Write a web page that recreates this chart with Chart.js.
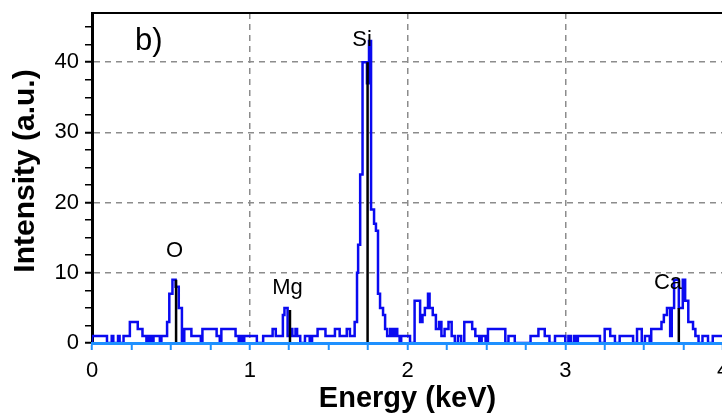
<!DOCTYPE html>
<html>
<head>
<meta charset="utf-8">
<script src="https://cdn.jsdelivr.net/npm/chart.js@4"></script>
<style>
  html, body { margin: 0; padding: 0; background: #fff; overflow: hidden; }
  #wrap { width: 722px; height: 414px; overflow: hidden; }
</style>
</head>
<body>
<div id="wrap"><canvas id="edsChart" width="760" height="414"></canvas></div>
<script>
// EDS spectrum: start energy of each step (keV) and its intensity
const energy = [
  0.00, 0.095, 0.125, 0.135, 0.165, 0.175, 0.20, 0.24, 0.29, 0.32, 0.345, 0.36,
  0.375, 0.39, 0.43, 0.44, 0.476, 0.49, 0.51, 0.53, 0.55, 0.57, 0.585, 0.63,
  0.69, 0.70, 0.79, 0.81, 0.82, 0.91, 0.93, 0.94, 0.955, 0.965, 1.045, 1.085,
  1.145, 1.165, 1.21, 1.22, 1.24, 1.26, 1.27, 1.29, 1.30, 1.32, 1.35, 1.38,
  1.395, 1.43, 1.48, 1.54, 1.57, 1.615, 1.635, 1.665, 1.68, 1.687, 1.70, 1.715,
  1.743, 1.756, 1.769, 1.788, 1.80, 1.813, 1.826, 1.845, 1.858, 1.871, 1.89, 1.905,
  1.92, 1.935, 1.95, 1.96, 2.016, 2.045, 2.08, 2.095, 2.11, 2.13, 2.14, 2.16,
  2.18, 2.20, 2.215, 2.235, 2.26, 2.28, 2.30, 2.32, 2.34, 2.36, 2.41, 2.43,
  2.455, 2.47, 2.495, 2.51, 2.62, 2.64, 2.68, 2.78, 2.83, 2.87, 2.90, 2.935,
  3.00, 3.02, 3.035, 3.055, 3.065, 3.08, 3.22, 3.25, 3.285, 3.315, 3.345, 3.43,
  3.455, 3.485, 3.505, 3.535, 3.545, 3.61, 3.625, 3.645, 3.665, 3.675, 3.69, 3.72,
  3.745, 3.76, 3.78, 3.81, 3.825, 3.845, 3.87, 3.905, 3.935, 3.96, 4.00
];
const counts = [
  0, 1, 0, 1, 0, 1, 0, 1, 3, 2, 1, 0,
  1, 0, 1, 0, 1, 3, 7, 9, 8, 5, 0, 2,
  1, 0, 2, 1, 0, 2, 1, 0, 1, 0, 1, 0,
  1, 2, 1, 4, 5, 1, 2, 1, 2, 1, 0, 1,
  0, 1, 2, 1, 2, 1, 2, 1, 3, 10, 14, 24,
  40, 37, 43, 19, 17, 16, 7, 5, 4, 2, 1, 2,
  1, 2, 1, 0, 1, 0, 6, 3, 4, 5, 7, 5,
  4, 2, 3, 1, 2, 3, 1, 0, 1, 0, 3, 2,
  1, 0, 1, 0, 2, 0, 1, 0, 1, 2, 1, 0,
  1, 0, 1, 0, 1, 0, 1, 0, 2, 1, 0, 1,
  0, 2, 0, 1, 0, 2, 3, 4, 5, 1, 5, 9,
  5, 9, 6, 3, 2, 1, 0, 1, 0, 1, 1
];

// element markers
const peakNames = ['O', 'Mg', 'Si', 'Ca'];
const peakEnergy = [0.533, 1.255, 1.747, 3.72];
const peakHeight = [9, 4.7, 40, 5];
// where each element name sits (keV, intensity) - text centre / baseline
const labelEnergy = [0.523, 1.239, 1.712, 3.651];
const labelIntensity = [12.25, 6.98, 42.3, 7.69];

const FONT = '"Liberation Sans", Arial, sans-serif';
const SPEC_BLUE = '#0a0af0';
const AXIS_BLUE = '#1e90ff';

const spectrum = energy.map((e, i) => ({ x: e, y: counts[i] }));
const markers = [];
peakEnergy.forEach((e, i) => {
    markers.push({ x: e, y: 0 }, { x: e, y: peakHeight[i] }, { x: e, y: null });
});

// labels, panel letter, axis titles, top frame
const edsText = {
    id: 'edsText',
    afterDraw(chart) {
        const { ctx, chartArea, scales: { x, y } } = chart;
        ctx.save();
        ctx.strokeStyle = '#000';
        ctx.lineWidth = 2;
        ctx.beginPath();
        ctx.moveTo(chartArea.left, chartArea.top);
        ctx.lineTo(chartArea.right, chartArea.top);
        ctx.stroke();

        ctx.fillStyle = '#000';
        ctx.textBaseline = 'alphabetic';
        ctx.textAlign = 'center';
        ctx.font = '22px ' + FONT;
        peakNames.forEach((name, i) => {
            ctx.fillText(name, x.getPixelForValue(labelEnergy[i]), y.getPixelForValue(labelIntensity[i]));
        });

        ctx.textAlign = 'left';
        ctx.font = '31px ' + FONT;
        ctx.fillText('b)', 135, 50);

        ctx.textAlign = 'center';
        ctx.textBaseline = 'middle';
        ctx.font = 'bold 29px ' + FONT;
        ctx.fillText('Energy (keV)', (chartArea.left + chartArea.right) / 2, 399);

        ctx.font = 'bold 30px ' + FONT;
        ctx.translate(26, 171);
        ctx.rotate(-Math.PI / 2);
        ctx.fillText('Intensity (a.u.)', 0, 0);
        ctx.restore();
    }
};

const ctx = document.getElementById('edsChart').getContext('2d');
new Chart(ctx, {
    type: 'line',
    data: {
        datasets: [{
            label: 'Markers',
            data: markers,
            borderColor: '#000',
            borderWidth: 2.5,
            pointRadius: 0,
            fill: false,
            spanGaps: false
        }, {
            label: 'Spectrum',
            data: spectrum,
            stepped: 'after',
            borderColor: SPEC_BLUE,
            borderWidth: 2.5,
            pointRadius: 0,
            fill: false
        }]
    },
    options: {
        responsive: false,
        animation: false,
        layout: { padding: { top: 13, right: 37, left: 0, bottom: 0 } },
        plugins: {
            legend: { display: false },
            tooltip: { enabled: false }
        },
        scales: {
            x: {
                type: 'linear',
                min: 0,
                max: 4,
                afterFit: (scale) => {
                    scale.height = 71;
                    scale.paddingLeft = 0;
                    scale.paddingRight = 0;
                },
                ticks: {
                    stepSize: 0.25,
                    autoSkip: false,
                    maxRotation: 0,
                    padding: 8,
                    color: '#000',
                    font: { family: FONT, size: 22 },
                    callback: (v) => (v % 1 === 0 ? v : '')
                },
                grid: {
                    color: (c) => (c.tick && c.tick.value % 1 === 0 && c.tick.value > 0 ? '#8c8c8c' : 'rgba(0,0,0,0)'),
                    lineWidth: 1.5,
                    tickColor: AXIS_BLUE,
                    tickLength: 7,
                    tickWidth: 2
                },
                border: { color: AXIS_BLUE, width: 3, dash: [6, 5], z: 1 }
            },
            y: {
                min: 0,
                max: 47,
                afterFit: (scale) => {
                    scale.width = 92;
                    scale.paddingTop = 0;
                    scale.paddingBottom = 0;
                },
                ticks: {
                    stepSize: 2.5,
                    includeBounds: false,
                    autoSkip: false,
                    padding: 6,
                    color: '#000',
                    font: { family: FONT, size: 22 },
                    callback: (v) => (v % 10 === 0 ? v : '')
                },
                grid: {
                    color: (c) => (c.tick && c.tick.value % 10 === 0 && c.tick.value > 0 ? '#8c8c8c' : 'rgba(0,0,0,0)'),
                    lineWidth: 1.5,
                    tickColor: '#000',
                    tickLength: 7,
                    tickWidth: (c) => (c.tick && c.tick.value % 10 === 0 ? 2 : 1.5)
                },
                border: { color: '#000', width: 3, dash: [6, 5] }
            }
        }
    },
    plugins: [edsText]
});
</script>
</body>
</html>
